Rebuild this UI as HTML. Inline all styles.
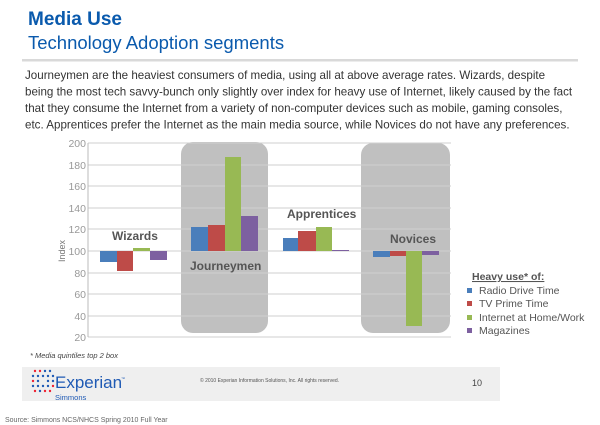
<!DOCTYPE html>
<html><head><meta charset="utf-8"><style>
body{margin:0;background:#fff;}
svg{display:block;font-family:"Liberation Sans",Arial,sans-serif;}
</style></head><body>
<svg width="600" height="425" viewBox="0 0 600 425">
<text x="28" y="25" font-size="19" font-weight="bold" fill="#0a5aad">Media Use</text>
<text x="28" y="49" font-size="18.5" fill="#0a5aad">Technology Adoption segments</text>
<rect x="22" y="59" width="556" height="2.5" fill="#d9d9d9"/>
<g font-size="11.6" fill="#333">
<text x="25" y="79">Journeymen are the heaviest consumers of media, using all at above average rates. Wizards, despite</text>
<text x="25" y="95.5">being the most tech savvy-bunch only slightly over index for heavy use of Internet, likely caused by the fact</text>
<text x="25" y="112">that they consume the Internet from a variety of non-computer devices such as mobile, gaming consoles,</text>
<text x="25" y="128.5">etc. Apprentices prefer the Internet as the main media source, while Novices do not have any preferences.</text>
</g>
<!-- grey boxes -->
<rect x="181" y="142" width="87" height="191" rx="12" fill="#c0c0c0"/>
<rect x="361" y="143" width="89" height="190" rx="12" fill="#c0c0c0"/>
<!-- grid -->
<g stroke="#cfcfcf" stroke-width="1">
<line x1="88" x2="451" y1="143" y2="143"/><line x1="88" x2="451" y1="165" y2="165"/>
<line x1="88" x2="451" y1="186" y2="186"/><line x1="88" x2="451" y1="208" y2="208"/>
<line x1="88" x2="451" y1="229" y2="229"/><line x1="88" x2="451" y1="251" y2="251"/>
<line x1="88" x2="451" y1="273" y2="273"/><line x1="88" x2="451" y1="294" y2="294"/>
<line x1="88" x2="451" y1="316" y2="316"/><line x1="88" x2="451" y1="337" y2="337"/>
<line x1="88" x2="88" y1="143" y2="337" stroke="#bbb"/>
</g>
<g font-size="10.5" fill="#999" text-anchor="end">
<text x="86" y="147">200</text><text x="86" y="169">180</text><text x="86" y="190">160</text>
<text x="86" y="212">140</text><text x="86" y="233">120</text><text x="86" y="255">100</text>
<text x="86" y="277">80</text><text x="86" y="298">60</text><text x="86" y="320">40</text><text x="86" y="341">20</text>
</g>
<text transform="translate(65,251) rotate(-90)" font-size="9" fill="#777" text-anchor="middle">Index</text>
<!-- bars -->
<g>
<rect x="100" y="251" width="17" height="11" fill="#4a7ebb"/>
<rect x="117" y="251" width="16" height="20" fill="#be4b48"/>
<rect x="133" y="248" width="17" height="3" fill="#98b954"/>
<rect x="150" y="251" width="17" height="9" fill="#7d60a0"/>
<rect x="191" y="227" width="17" height="24" fill="#4a7ebb"/>
<rect x="208" y="225" width="17" height="26" fill="#be4b48"/>
<rect x="225" y="157" width="16" height="94" fill="#98b954"/>
<rect x="241" y="216" width="17" height="35" fill="#7d60a0"/>
<rect x="283" y="238" width="15" height="13" fill="#4a7ebb"/>
<rect x="298" y="231" width="18" height="20" fill="#be4b48"/>
<rect x="316" y="227" width="16" height="24" fill="#98b954"/>
<rect x="332" y="250" width="17" height="1" fill="#7d60a0"/>
<rect x="373" y="251" width="17" height="6" fill="#4a7ebb"/>
<rect x="390" y="251" width="16" height="5" fill="#be4b48"/>
<rect x="406" y="251" width="16" height="75" fill="#98b954"/>
<rect x="422" y="251" width="17" height="4" fill="#7d60a0"/>
</g>
<g font-size="12" font-weight="bold" fill="#555">
<text x="112" y="240">Wizards</text>
<text x="190" y="270">Journeymen</text>
<text x="287" y="218">Apprentices</text>
<text x="390" y="243">Novices</text>
</g>
<!-- legend -->
<text x="472" y="280" font-size="10.5" font-weight="bold" fill="#555" text-decoration="underline">Heavy use* of:</text>
<g font-size="10.5" fill="#555">
<rect x="467" y="288" width="5" height="5" fill="#4a7ebb"/><text x="479" y="294">Radio Drive Time</text>
<rect x="467" y="301" width="5" height="5" fill="#be4b48"/><text x="479" y="307">TV Prime Time</text>
<rect x="467" y="315" width="5" height="5" fill="#98b954"/><text x="479" y="321">Internet  at Home/Work</text>
<rect x="467" y="328" width="5" height="5" fill="#7d60a0"/><text x="479" y="334">Magazines</text>
</g>
<text x="30" y="358" font-size="7.5" font-style="italic" fill="#444">* Media quintiles top 2 box</text>
<!-- footer -->
<rect x="22" y="367" width="478" height="34" fill="#efefef"/>
<g fill="#1f5ab4">
<circle cx="35" cy="371" r="1.2" fill="#e23"/><circle cx="40" cy="371" r="1.2" fill="#e23"/><circle cx="45" cy="371" r="1.2"/><circle cx="50" cy="371" r="1.2"/>
<circle cx="33" cy="376" r="1.2"/><circle cx="38" cy="376" r="1.2"/><circle cx="43" cy="376" r="1.2"/><circle cx="48" cy="376" r="1.2"/><circle cx="53" cy="376" r="1.2"/>
<circle cx="33" cy="381" r="1.2" fill="#e23"/><circle cx="38" cy="381" r="1.2"/><circle cx="48" cy="381" r="1.2"/><circle cx="53" cy="381" r="1.2"/>
<circle cx="33" cy="386" r="1.2"/><circle cx="38" cy="386" r="1.2"/><circle cx="43" cy="386" r="1.2"/><circle cx="48" cy="386" r="1.2"/><circle cx="53" cy="386" r="1.2" fill="#e23"/>
<circle cx="35" cy="391" r="1.2" fill="#e23"/><circle cx="40" cy="391" r="1.2"/><circle cx="45" cy="391" r="1.2" fill="#e23"/><circle cx="50" cy="391" r="1.2" fill="#e23"/>
</g>
<text x="55" y="388" font-size="17" fill="#1f5ab4">Experian</text>
<text x="121" y="380" font-size="4" fill="#1f5ab4">™</text>
<text x="55" y="400" font-size="7.5" fill="#1f5ab4">Simmons</text>
<text x="200" y="382" font-size="5" fill="#555">© 2010 Experian Information Solutions, Inc.  All rights reserved.</text>
<text x="472" y="386" font-size="9" fill="#444">10</text>
<text x="5" y="422" font-size="7" fill="#666">Source:  Simmons NCS/NHCS Spring 2010 Full Year</text>
</svg>
</body></html>
